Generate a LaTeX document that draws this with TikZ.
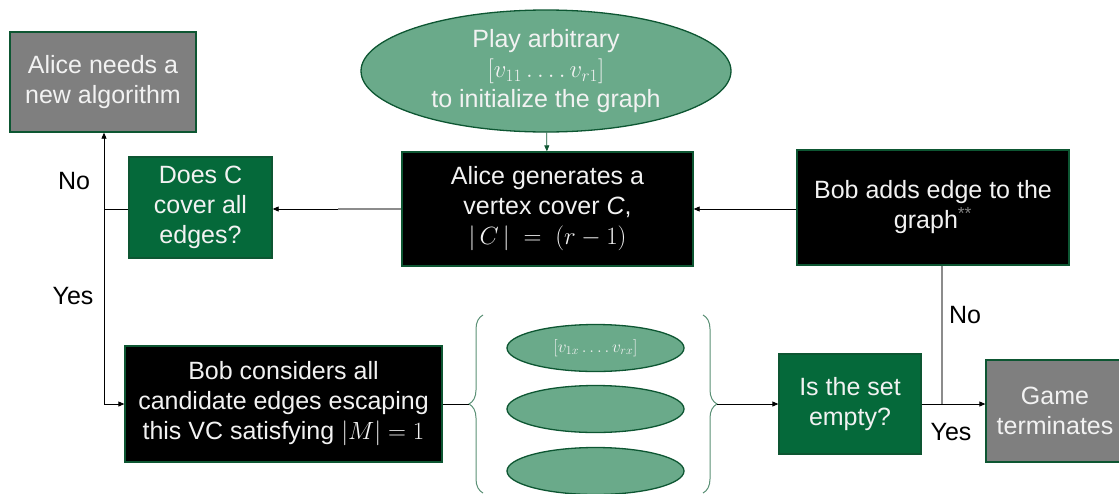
\documentclass[tikz,border=0pt]{standalone}
\usepackage{fontspec}
\setmainfont{Liberation Sans}
\usetikzlibrary{arrows.meta,shapes.geometric,decorations.pathreplacing}
\definecolor{dkgreen}{HTML}{05693A}
\definecolor{ltgreen}{HTML}{6AAA8A}
\definecolor{rim}{HTML}{0D5632}
\definecolor{midgray}{HTML}{7F7F7F}
\definecolor{linegray}{HTML}{8C8C8C}
\begin{document}
\begin{tikzpicture}[x=1pt, y=-1pt,
  every node/.style={font=\fontsize{25}{30}\selectfont, align=center, text=white!95!black},
  box/.style={draw=rim, line width=1.3pt, inner sep=0pt},
  oval/.style={ellipse, draw=rim, line width=1.3pt, fill=ltgreen, inner sep=0pt},
  lbl/.style={text=black},
  arr/.style={-{Triangle[length=6pt,width=5pt]}, line width=0.8pt},
  gline/.style={draw=linegray, line width=1.4pt},
  brc/.style={draw=ltgreen!85!black, line width=1pt, decorate,
    decoration={brace, amplitude=14pt}}]
  \clip (0,0) rectangle (1119,493);
  % boxes
  \node[box, fill=midgray, minimum width=186, minimum height=100] (needalg) at (103,82)
    {Alice needs a\\new algorithm};
  \node[oval, minimum width=370, minimum height=122] (play) at (546,71)
    {Play arbitrary\\$[v_{11}\ldots.\,v_{r1}]$\\to initialize the graph};
  \node[box, fill=black, minimum width=291, minimum height=114] (agen) at (547.5,209)
    {Alice generates a\\vertex cover \textit{C},\\$|\,C\,|\;=\;(r-1)$};
  \node[box, fill=dkgreen, minimum width=143, minimum height=101] (doesc) at (200.5,207.5)
    {Does C\\cover all\\edges?};
  \node[box, fill=black, minimum width=272, minimum height=115] (bobadd) at (933,207.5)
    {Bob adds edge to the\\graph\textsuperscript{\textcolor{midgray}{**}}};
  \node[box, fill=black, minimum width=317, minimum height=116] (bobcons) at (283.5,404)
    {Bob considers all\\candidate edges escaping\\this VC satisfying $|M|=1$};
  \node[box, fill=dkgreen, minimum width=142, minimum height=100] (isset) at (850,404)
    {Is the set\\empty?};
  \node[box, fill=midgray, minimum width=138, minimum height=102] (game) at (1055,411)
    {Game\\terminates};
  % candidate sets
  \node[oval, minimum width=177, minimum height=47, font=\fontsize{18}{20}\selectfont] (set1) at (595.5,348)
    {$[v_{1x}\ldots.\,v_{rx}]$};
  \node[oval, minimum width=177, minimum height=47] (set2) at (595.5,409) {};
  \node[oval, minimum width=177, minimum height=47] (set3) at (595.5,471) {};
  \draw[brc] (483,493) -- (483,315);
  \draw[brc] (703,315) -- (703,493);
  \coordinate (lbr) at (469,404);
  \coordinate (rbr) at (717,404);
  \coordinate (split) at (104,209);
  \coordinate (jn) at (942,404);
  \coordinate (mid) at (338,209);
  % connectors
  \draw[arr, draw=rim] (play) -- (agen);
  \draw[arr] (bobadd.west |- agen) -- (agen.east);
  \draw[gline] (agen.west) -- (mid);
  \draw[arr] (mid) -- (doesc.east |- mid);
  \draw[line width=0.8pt] (doesc.west |- split) -- (split);
  \draw[arr] (split) -- (split |- needalg.south);
  \draw[arr] (split) -- (split |- bobcons) -- (bobcons.west);
  \draw[line width=0.8pt] (bobcons.east) -- (lbr);
  \draw[arr] (rbr) -- (isset.west);
  \draw[arr] (isset.east) -- (isset.east -| game.west);
  \draw[gline] (jn |- bobadd.south) -- (jn);
  % labels
  \node[lbl] (no1) at (74,181) {No};
  \node[lbl] (yes1) at (73,296) {Yes};
  \node[lbl] (no2) at (965,315) {No};
  \node[lbl] (yes2) at (951,432) {Yes};
\end{tikzpicture}
\end{document}
